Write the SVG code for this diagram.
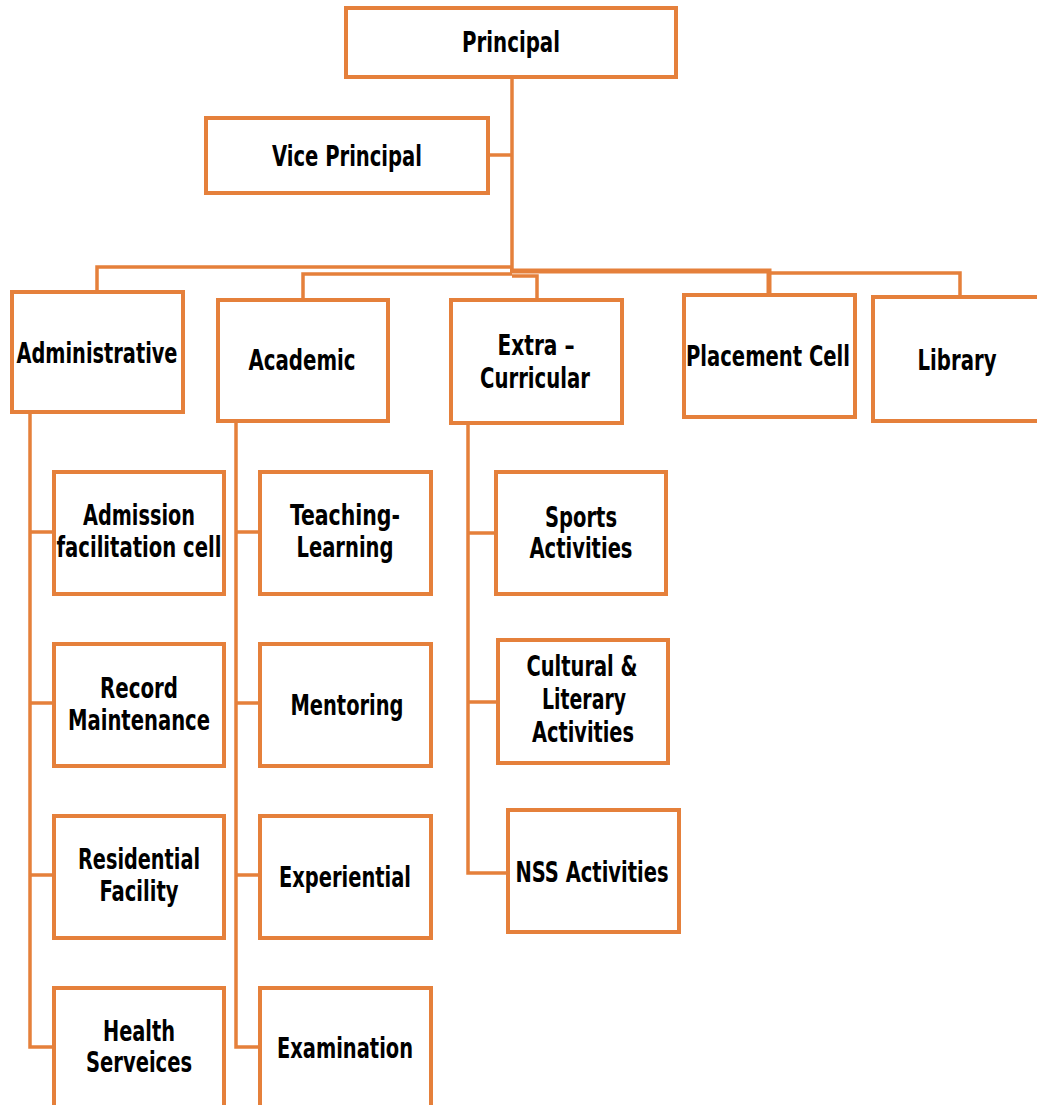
<svg xmlns="http://www.w3.org/2000/svg" width="1037" height="1105" viewBox="0 0 1037 1105">
<style>
.box{fill:#fff;stroke:#E5803B;stroke-width:4}
.ln{fill:none;stroke:#E5803B;stroke-width:3.5}
text{font-family:"DejaVu Sans Condensed","DejaVu Sans",sans-serif;font-weight:bold;font-stretch:condensed;font-size:29px;fill:#000;text-anchor:middle}
</style>
<rect width="1037" height="1105" fill="#fff"/>
<g id="connectors">
<path class="ln" d="M512 77V273"/>
<path class="ln" d="M488 155H512"/>
<path class="ln" d="M512 267H97V292"/>
<path class="ln" d="M512 274H303V300"/>
<path class="ln" d="M512 276H537V300"/>
<path class="ln" d="M510 271H769V295" style="stroke-width:5"/>
<path class="ln" d="M769 273H960V297"/>
<path class="ln" d="M30 412V1047H54M30 532H54M30 703H54M30 875H54"/>
<path class="ln" d="M236 421V1047H260M236 532H260M236 703H260M236 875H260"/>
<path class="ln" d="M468 423V873H508M468 533H496M468 702H498"/>
</g>
<g id="principal"><rect class="box" x="346" y="8" width="330" height="69"/><text x="511" y="52" textLength="98" lengthAdjust="spacingAndGlyphs">Principal</text></g>
<g id="vice-principal"><rect class="box" x="206" y="118" width="282" height="75"/><text x="347" y="166" textLength="150" lengthAdjust="spacingAndGlyphs">Vice Principal</text></g>
<g id="administrative"><rect class="box" x="12" y="292" width="171" height="120"/><text x="97" y="363" textLength="161" lengthAdjust="spacingAndGlyphs">Administrative</text></g>
<g id="academic"><rect class="box" x="218" y="300" width="170" height="121"/><text x="302" y="370" textLength="107" lengthAdjust="spacingAndGlyphs">Academic</text></g>
<g id="extra-curricular"><rect class="box" x="451" y="300" width="171" height="123"/><text x="536" y="355" textLength="77" lengthAdjust="spacingAndGlyphs">Extra –</text><text x="535" y="388" textLength="110" lengthAdjust="spacingAndGlyphs">Curricular</text></g>
<g id="placement-cell"><rect class="box" x="684" y="295" width="171" height="122"/><text x="768" y="366" textLength="164" lengthAdjust="spacingAndGlyphs">Placement Cell</text></g>
<g id="library"><rect class="box" x="873" y="297" width="170" height="124"/><text x="957" y="370" textLength="79" lengthAdjust="spacingAndGlyphs">Library</text></g>
<g id="admission"><rect class="box" x="54" y="472" width="170" height="122"/><text x="139" y="525" textLength="112" lengthAdjust="spacingAndGlyphs">Admission</text><text x="139" y="557" textLength="165" lengthAdjust="spacingAndGlyphs">facilitation cell</text></g>
<g id="record"><rect class="box" x="54" y="644" width="170" height="122"/><text x="139" y="698" textLength="78" lengthAdjust="spacingAndGlyphs">Record</text><text x="139" y="730" textLength="142" lengthAdjust="spacingAndGlyphs">Maintenance</text></g>
<g id="residential"><rect class="box" x="54" y="816" width="170" height="122"/><text x="139" y="869" textLength="122" lengthAdjust="spacingAndGlyphs">Residential</text><text x="139" y="901" textLength="79" lengthAdjust="spacingAndGlyphs">Facility</text></g>
<g id="health"><rect class="box" x="54" y="988" width="170" height="130"/><text x="139" y="1041" textLength="72" lengthAdjust="spacingAndGlyphs">Health</text><text x="139" y="1072" textLength="106" lengthAdjust="spacingAndGlyphs">Serveices</text></g>
<g id="teaching"><rect class="box" x="260" y="472" width="171" height="122"/><text x="345" y="525" textLength="110" lengthAdjust="spacingAndGlyphs">Teaching-</text><text x="345" y="557" textLength="97" lengthAdjust="spacingAndGlyphs">Learning</text></g>
<g id="mentoring"><rect class="box" x="260" y="644" width="171" height="122"/><text x="347" y="715" textLength="113" lengthAdjust="spacingAndGlyphs">Mentoring</text></g>
<g id="experiential"><rect class="box" x="260" y="816" width="171" height="122"/><text x="345" y="887" textLength="132" lengthAdjust="spacingAndGlyphs">Experiential</text></g>
<g id="examination"><rect class="box" x="260" y="988" width="171" height="130"/><text x="345" y="1058" textLength="136" lengthAdjust="spacingAndGlyphs">Examination</text></g>
<g id="sports"><rect class="box" x="496" y="472" width="170" height="122"/><text x="581" y="527" textLength="72" lengthAdjust="spacingAndGlyphs">Sports</text><text x="581" y="558" textLength="103" lengthAdjust="spacingAndGlyphs">Activities</text></g>
<g id="cultural"><rect class="box" x="498" y="640" width="170" height="123"/><text x="582" y="676" textLength="111" lengthAdjust="spacingAndGlyphs">Cultural &amp;</text><text x="584" y="709" textLength="84" lengthAdjust="spacingAndGlyphs">Literary</text><text x="583" y="742" textLength="102" lengthAdjust="spacingAndGlyphs">Activities</text></g>
<g id="nss"><rect class="box" x="508" y="810" width="171" height="122"/><text x="592" y="882" textLength="153" lengthAdjust="spacingAndGlyphs">NSS Activities</text></g>
</svg>
